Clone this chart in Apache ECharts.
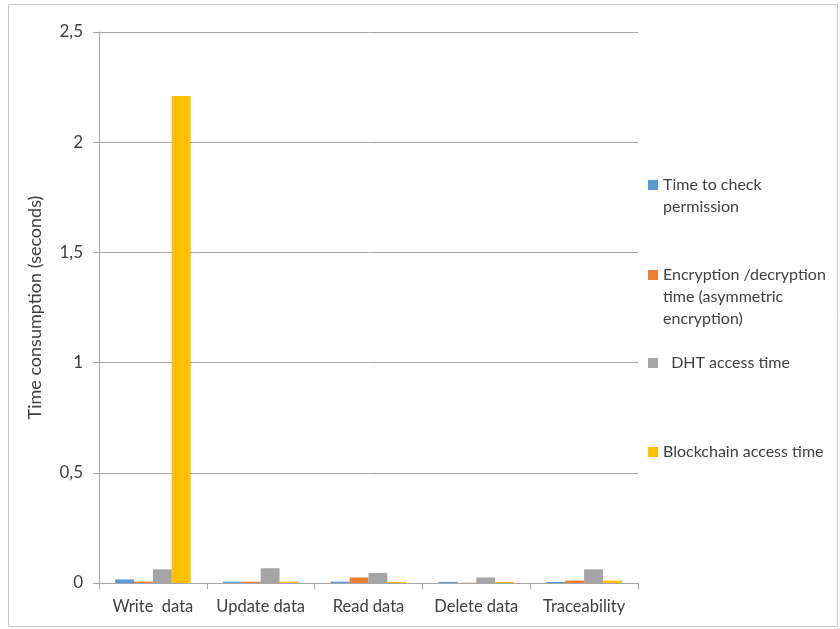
<!DOCTYPE html>
<html>
<head>
<meta charset="utf-8">
<script src="https://cdn.jsdelivr.net/npm/echarts@6/dist/echarts.min.js"></script>
<style>
  html, body { margin: 0; padding: 0; background: #ffffff; }
  #chart { width: 840px; height: 629px; }
</style>
</head>
<body>
<div id="chart"></div>
<script>
// Operations measured
const categories = ['Write  data', 'Update data', 'Read data', 'Delete data', 'Traceability'];

// Time consumption per operation, in seconds
const permissionCheck = [0.016, 0.006, 0.006, 0.005, 0.005];
const encryptionTime  = [0.006, 0.006, 0.025, 0.001, 0.011];
const dhtAccess       = [0.062, 0.067, 0.046, 0.025, 0.062];
const blockchainAccess = [2.21, 0.006, 0.005, 0.005, 0.011];

// Series names as shown in the legend
const seriesNames = [
  'Time to check\npermission',
  'Encryption /decryption\ntime (asymmetric\nencryption)',
  '  DHT access time',
  'Blockchain access time'
];

// Value axis ticks
const yTicks = [0, 0.5, 1, 1.5, 2, 2.5];

const colors = ['#5B9BD5', '#ED7D31', '#A5A5A5', '#FFC000'];
const values = [permissionCheck, encryptionTime, dhtAccess, blockchainAccess];

const FONT = 'Lato';
const TEXT = '#404040';
const LINE_H = 22;

// Centre of each legend entry's first text line
const legendRows = [185, 275, 363, 452];

// Legend entries: the swatch sits beside the first line of a wrapped name,
// so the icon path spans the whole text block with the square at its top.
const legends = seriesNames.map((name, i) => {
  const lines = name.split('\n').length;
  const blockH = lines * LINE_H;
  const sq = 10;
  const y0 = (LINE_H - sq) / 2;
  const icon = 'path://M0,0M0,' + y0 + 'h' + sq + 'v' + sq + 'h-' + sq + 'zM0,' + blockH + 'h0';
  return {
    data: [{ name: name, icon: icon }],
    orient: 'vertical',
    left: 648,
    top: legendRows[i] - LINE_H / 2,
    padding: 0,
    itemWidth: 10,
    itemHeight: blockH,
    selectedMode: false,
    textStyle: {
      fontFamily: FONT,
      fontSize: 16,
      color: TEXT,
      lineHeight: LINE_H
    }
  };
});

const chart = echarts.init(document.getElementById('chart'), null, { renderer: 'canvas' });

chart.setOption({
  backgroundColor: '#ffffff',
  animation: false,
  color: colors,
  textStyle: { fontFamily: FONT },
  graphic: [{
    type: 'rect',
    shape: { x: 8.5, y: 4.5, width: 829, height: 622 },
    style: { fill: 'none', stroke: '#c8c8c8', lineWidth: 1 },
    silent: true,
    z: -1
  }],
  legend: legends,
  grid: { left: 99, right: 202, top: 32, bottom: 46, containLabel: false },
  xAxis: {
    type: 'category',
    data: categories,
    axisLine: { lineStyle: { color: '#a6a6a6', width: 1 } },
    axisTick: { show: true, length: 6, lineStyle: { color: '#a6a6a6' } },
    axisLabel: { fontFamily: FONT, fontSize: 16.5, color: TEXT, margin: 15, interval: 0 }
  },
  yAxis: {
    type: 'value',
    min: yTicks[0],
    max: yTicks[yTicks.length - 1],
    interval: 0.5,
    name: 'Time consumption (seconds)',
    nameLocation: 'middle',
    nameGap: 55,
    nameTextStyle: { fontFamily: FONT, fontSize: 18, color: TEXT },
    axisLine: { show: true, lineStyle: { color: '#a6a6a6', width: 1 } },
    axisTick: { show: true, length: 6, lineStyle: { color: '#a6a6a6' } },
    axisLabel: {
      fontFamily: FONT, fontSize: 17, color: TEXT, margin: 16,
      formatter: v => String(v).replace('.', ',')
    },
    splitLine: { show: true, lineStyle: { color: '#a6a6a6', width: 1 } }
  },
  series: seriesNames.map((name, i) => ({
    name: name,
    type: 'bar',
    data: values[i],
    barGap: '0%',
    barCategoryGap: '30%',
    itemStyle: { color: colors[i] }
  }))
});
</script>
</body>
</html>
